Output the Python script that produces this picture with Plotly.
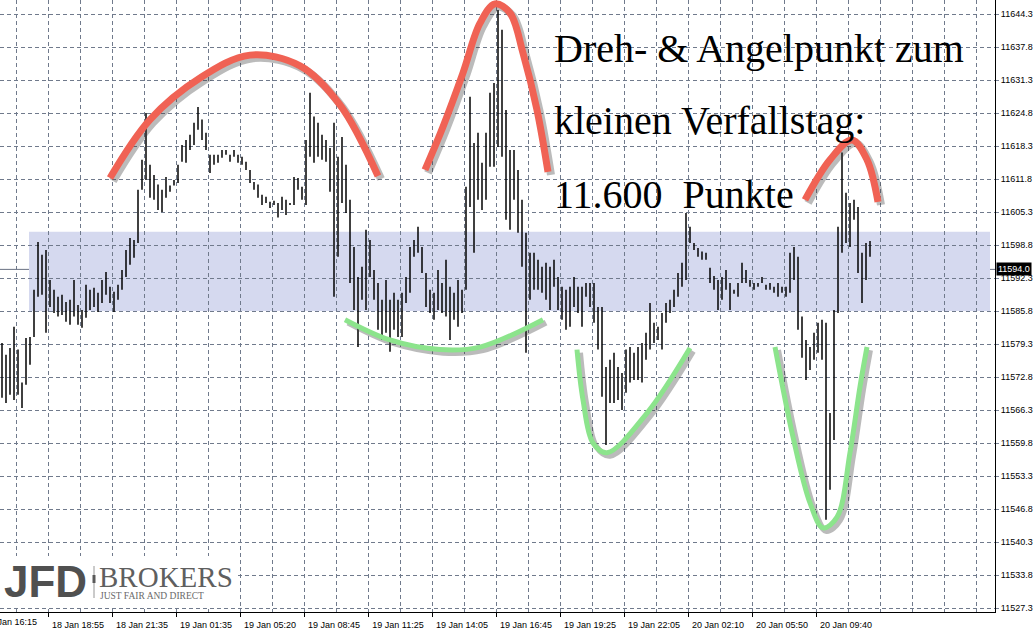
import plotly.graph_objects as go

# ---------------- data (M5 bars, every second bar) ----------------
price_high = [
    11579.5, 11577.2, 11578.5, 11582.7, 11578.2, 11571.7, 11580.5, 11580.7, 11590.0, 11599.4,
    11596.9, 11597.8, 11591.9, 11590.0, 11588.6, 11589.0, 11587.6, 11588.0, 11591.9, 11587.0,
    11586.0, 11591.0, 11590.0, 11590.4, 11589.4, 11591.9, 11593.5, 11590.6, 11589.6, 11591.0,
    11593.9, 11597.8, 11600.2, 11599.8, 11609.7, 11615.6, 11624.8, 11614.6, 11612.6, 11610.7,
    11609.7, 11612.2, 11610.5, 11611.6, 11614.6, 11618.5, 11619.5, 11620.5, 11622.9, 11626.0,
    11623.5, 11620.9, 11616.6, 11616.6, 11616.6, 11617.5, 11617.5, 11616.6, 11617.5, 11616.6,
    11616.2, 11615.2, 11613.6, 11611.2, 11610.7, 11608.7, 11608.3, 11607.3, 11607.5, 11607.1,
    11608.3, 11607.7, 11607.1, 11612.2, 11612.0, 11610.3, 11619.5, 11628.8, 11624.1, 11622.9,
    11620.5, 11619.5, 11617.9, 11622.9, 11616.2, 11620.1, 11614.6, 11607.7, 11598.4, 11592.5,
    11594.5, 11601.8, 11599.8, 11593.9, 11591.3, 11588.0, 11591.9, 11588.0, 11589.4, 11588.0,
    11589.4, 11592.5, 11598.4, 11599.8, 11602.4, 11598.4, 11593.3, 11590.0, 11589.4, 11593.9,
    11591.3, 11595.9, 11590.6, 11589.4, 11591.9, 11590.0, 11610.3, 11628.0, 11618.9, 11620.9,
    11615.0, 11620.9, 11628.8, 11630.7, 11645.1, 11641.2, 11625.4, 11617.5, 11617.5, 11613.6,
    11607.7, 11601.2, 11597.3, 11597.3, 11595.9, 11594.5, 11595.3, 11594.5, 11595.9, 11592.5,
    11590.6, 11590.0, 11590.6, 11592.5, 11590.6, 11590.6, 11591.3, 11591.3, 11591.3, 11586.6,
    11586.6, 11574.8, 11576.2, 11577.6, 11574.8, 11573.6, 11578.2, 11578.7, 11577.6, 11578.7,
    11579.5, 11581.5, 11587.4, 11583.5, 11582.7, 11585.4, 11587.4, 11588.0, 11590.0, 11593.3,
    11595.3, 11605.1, 11602.4, 11599.2, 11598.2, 11597.5, 11597.3, 11594.3, 11592.7, 11591.9,
    11592.5, 11593.9, 11591.3, 11590.0, 11591.3, 11595.3, 11593.9, 11591.9, 11591.3, 11591.3,
    11592.5, 11591.0, 11591.3, 11590.6, 11591.3, 11590.6, 11590.6, 11597.3, 11598.4, 11596.5,
    11584.7, 11580.1, 11578.7, 11581.5, 11583.5, 11584.1, 11583.5, 11565.7, 11586.0, 11602.4,
    11617.0, 11609.1, 11607.1, 11607.7, 11606.3, 11597.3, 11599.2, 11599.6,
]
price_low = [
    11568.7, 11567.7, 11569.3, 11568.3, 11569.3, 11566.7, 11571.3, 11575.2, 11580.7, 11588.6,
    11589.0, 11581.5, 11586.6, 11585.4, 11584.7, 11585.0, 11583.7, 11583.1, 11584.7, 11583.1,
    11582.5, 11584.5, 11586.0, 11586.6, 11585.6, 11587.4, 11589.0, 11587.4, 11585.6, 11588.0,
    11590.0, 11592.5, 11594.9, 11596.3, 11599.2, 11609.7, 11611.6, 11608.1, 11607.7, 11605.7,
    11605.3, 11608.1, 11609.3, 11610.5, 11611.0, 11615.2, 11615.0, 11617.5, 11618.5, 11621.5,
    11619.5, 11617.5, 11613.0, 11614.6, 11615.0, 11616.0, 11616.6, 11615.2, 11616.2, 11615.0,
    11614.6, 11613.6, 11611.0, 11609.7, 11608.1, 11606.7, 11607.1, 11606.1, 11606.7, 11604.2,
    11605.7, 11604.7, 11606.7, 11606.7, 11609.7, 11607.7, 11606.7, 11616.2, 11615.0, 11616.2,
    11615.6, 11615.2, 11609.3, 11588.6, 11596.5, 11607.1, 11605.1, 11591.3, 11586.0, 11578.7,
    11588.0, 11586.0, 11592.5, 11588.0, 11582.1, 11580.1, 11581.5, 11577.8, 11582.1, 11580.7,
    11580.7, 11587.4, 11589.4, 11596.5, 11597.3, 11593.3, 11586.6, 11585.4, 11584.1, 11586.0,
    11585.4, 11584.7, 11580.1, 11584.1, 11582.7, 11585.4, 11590.0, 11606.3, 11597.3, 11607.7,
    11605.7, 11607.7, 11614.2, 11614.2, 11618.1, 11616.2, 11603.8, 11601.8, 11607.7, 11601.2,
    11594.5, 11577.6, 11588.0, 11590.0, 11590.0, 11589.4, 11588.0, 11586.0, 11590.6, 11586.0,
    11584.1, 11582.1, 11582.7, 11586.6, 11585.4, 11582.7, 11588.6, 11586.6, 11583.5, 11578.2,
    11568.9, 11559.4, 11567.7, 11567.7, 11568.3, 11566.3, 11569.7, 11571.7, 11572.2, 11572.2,
    11571.7, 11576.2, 11578.2, 11579.5, 11580.1, 11578.2, 11583.5, 11585.4, 11586.6, 11588.6,
    11590.6, 11591.9, 11599.2, 11597.8, 11596.5, 11595.9, 11595.9, 11591.3, 11590.0, 11586.0,
    11588.0, 11590.0, 11586.0, 11589.2, 11588.6, 11591.3, 11591.3, 11590.6, 11590.0, 11590.6,
    11591.3, 11590.0, 11590.0, 11589.4, 11588.6, 11589.4, 11588.6, 11589.4, 11591.9, 11582.1,
    11576.6, 11572.2, 11574.2, 11576.2, 11577.6, 11576.2, 11544.7, 11550.6, 11560.4, 11585.4,
    11597.3, 11599.2, 11598.4, 11603.8, 11593.3, 11587.4, 11591.9, 11596.5,
]

time_labels = ["18 Jan 16:15", "18 Jan 18:55", "18 Jan 21:35", "19 Jan 01:35", "19 Jan 05:20",
               "19 Jan 08:45", "19 Jan 11:25", "19 Jan 14:05", "19 Jan 16:45", "19 Jan 19:25",
               "19 Jan 22:05", "20 Jan 02:10", "20 Jan 05:50", "20 Jan 09:40"]
label_bar_no = [-8, 24, 56, 88, 120, 152, 184, 216, 248, 280, 312, 344, 376, 408]

price_ticks = [11527.3, 11533.8, 11540.3, 11546.8, 11553.3, 11559.8, 11566.3, 11572.8, 11579.3,
               11585.8, 11592.3, 11598.8, 11605.3, 11611.8, 11618.3, 11624.8, 11631.3, 11637.8,
               11644.3]
last_price = 11594.0
zone_low, zone_high = 11585.8, 11601.4
zone_start_bar = 14.5

# hand-drawn marks (bar number, price)
red_arcs = [
    ([55, 75, 100, 125, 150, 170, 189],
     [11612.0, 11623.5, 11631.7, 11636.2, 11634.1, 11626.4, 11612.4]),
    ([212.5, 221.5, 231.5, 240, 247.5, 255, 261.5, 268.5, 274],
     [11613.6, 11622.1, 11632.7, 11642.5, 11646.3, 11644.5, 11636.6, 11625.4, 11613.2]),
    ([402.5, 415, 426, 433.5, 439],
     [11607.7, 11615.6, 11619.5, 11615.6, 11607.3]),
]
green_arcs = [
    ([172.5, 195, 220, 240, 271.5],
     [11584.1, 11580.1, 11578.2, 11578.7, 11584.1]),
    ([288.5, 291.5, 296.5, 303.5, 323.5, 345],
     [11578.2, 11568.3, 11559.8, 11557.9, 11565.7, 11578.5]),
    ([387.5, 396.5, 405, 411.5, 418.5, 425, 430, 433.5],
     [11578.7, 11561.0, 11548.0, 11543.1, 11545.2, 11557.9, 11570.9, 11578.7]),
]

text_lines = ["Dreh- & Angelpunkt zum", "kleinen Verfallstag:", "11.600\u00a0 Punkte"]

# ---------------- figure ----------------
W, H = 1036, 632
PL, PR, PT, PB = 0, 995, 0, 612
GRID = "rgb(112,122,140)"

bar_no = [1 + 2 * i for i in range(len(price_high))]
xs, ys = [], []
for b, hi, lo in zip(bar_no, price_high, price_low):
    xs += [b, b, None]
    ys += [lo, hi, None]

fig = go.Figure()
fig.add_trace(go.Scatter(x=xs, y=ys, mode="lines", line=dict(color="black", width=1.5),
                         hoverinfo="skip", showlegend=False))

def add_arc(xv, yv, color, width):
    fig.add_trace(go.Scatter(x=[v + 1.5 for v in xv], y=[v - 0.6 for v in yv], mode="lines",
                             line=dict(color="rgba(60,60,60,0.35)", width=width + 1,
                                       shape="spline", smoothing=1.0),
                             hoverinfo="skip", showlegend=False))
    fig.add_trace(go.Scatter(x=xv, y=yv, mode="lines",
                             line=dict(color=color, width=width, shape="spline", smoothing=1.0),
                             hoverinfo="skip", showlegend=False))

for xv, yv in red_arcs:
    add_arc(xv, yv, "rgb(240,98,84)", 7)
for xv, yv in green_arcs:
    add_arc(xv, yv, "rgb(140,228,140)", 5)

x_range = [0, (PR - PL) / 2]
y_range = [11526.52, 11647.06]

shapes = [
    dict(type="rect", xref="x", yref="y", x0=zone_start_bar, x1=x_range[1] - 2.5,
         y0=zone_low, y1=zone_high, fillcolor="rgb(213,217,239)", line=dict(width=0),
         layer="below"),
    dict(type="line", xref="paper", yref="y", x0=0, x1=1, y0=last_price, y1=last_price,
         line=dict(color="rgb(105,113,130)", width=1), layer="between"),
    # logo background
    dict(type="rect", xref="paper", yref="paper", x0=0, x1=236 / PR,
         y0=1 - 606 / PB, y1=1 - 556 / PB, fillcolor="white", line=dict(width=0), layer="above"),
    dict(type="line", xref="paper", yref="paper", x0=94 / PR, x1=94 / PR,
         y0=1 - 598 / PB, y1=1 - 566 / PB, line=dict(color="rgb(150,150,150)", width=1),
         layer="above"),
    dict(type="rect", xref="paper", yref="paper", x0=92.5 / PR, x1=95.5 / PR,
         y0=1 - 583 / PB, y1=1 - 575 / PB, fillcolor="rgb(90,90,90)", line=dict(width=0),
         layer="above"),
]

annotations = []
line_y = [49, 121, 194]
for t, yp in zip(text_lines, line_y):
    annotations.append(dict(text=t, xref="paper", yref="paper", x=552 / PR, y=1 - yp / PB,
                            xanchor="left", yanchor="middle", showarrow=False,
                            font=dict(family="Liberation Serif", size=40, color="black")))
# last price tag
annotations.append(dict(text=f"{last_price:.1f}", xref="paper", yref="y", x=1, y=last_price,
                        xanchor="left", yanchor="middle", showarrow=False, bgcolor="black",
                        borderpad=1, xshift=1,
                        font=dict(family="Liberation Sans", size=9, color="white")))
# first (cut) time label, as in the original screenshot
annotations.append(dict(text=time_labels[0], xref="paper", yref="paper", x=-17 / PR,
                        y=1 - 622 / PB, xanchor="left", yanchor="middle", showarrow=False,
                        font=dict(family="Liberation Sans", size=9, color="black")))
# logo
annotations += [
    dict(text="JFD", xref="paper", yref="paper", x=2 / PR, y=1 - 581 / PB, xanchor="left",
         yanchor="middle", showarrow=False,
         font=dict(family="Liberation Sans", size=44, color="rgb(80,80,80)", weight="bold")),
    dict(text="BROKERS", xref="paper", yref="paper", x=97 / PR, y=1 - 577 / PB, xanchor="left",
         yanchor="middle", showarrow=False,
         font=dict(family="Liberation Serif", size=29, color="rgb(95,95,95)")),
    dict(text="JUST FAIR AND DIRECT", xref="paper", yref="paper", x=98 / PR, y=1 - 596 / PB,
         xanchor="left", yanchor="middle", showarrow=False,
         font=dict(family="Liberation Serif", size=9.5, color="rgb(105,105,105)")),
]

fig.update_layout(
    width=W, height=H, margin=dict(l=PL, r=W - PR, t=PT, b=H - PB),
    paper_bgcolor="white", plot_bgcolor="white", showlegend=False,
    shapes=shapes, annotations=annotations,
    xaxis=dict(range=x_range, tickmode="array", tickvals=label_bar_no[1:],
               ticktext=time_labels[1:], ticks="outside", ticklen=4, tickcolor="black",
               ticklabelshift=30, showline=True, linecolor="black", linewidth=1,
               showgrid=True, gridcolor=GRID, griddash="4px,3px", gridwidth=1,
               minor=dict(tick0=8, dtick=16, showgrid=True, gridcolor=GRID,
                          griddash="4px,3px", gridwidth=1, ticks=""),
               zeroline=False, tickfont=dict(family="Liberation Sans", size=9, color="black")),
    yaxis=dict(range=y_range, side="right", tickmode="array", tickvals=price_ticks,
               ticktext=[f"{v:.1f}" for v in price_ticks], ticks="outside", ticklen=3,
               tickcolor="rgb(120,130,150)", showline=True, linecolor="black", linewidth=1,
               showgrid=True, gridcolor=GRID, griddash="4px,3px", gridwidth=1, zeroline=False,
               tickfont=dict(family="Liberation Sans", size=9, color="black")),
)

fig.write_html("out.html", config={"displayModeBar": False},
               post_script="document.body.style.margin='0';document.body.style.overflow='hidden';")
